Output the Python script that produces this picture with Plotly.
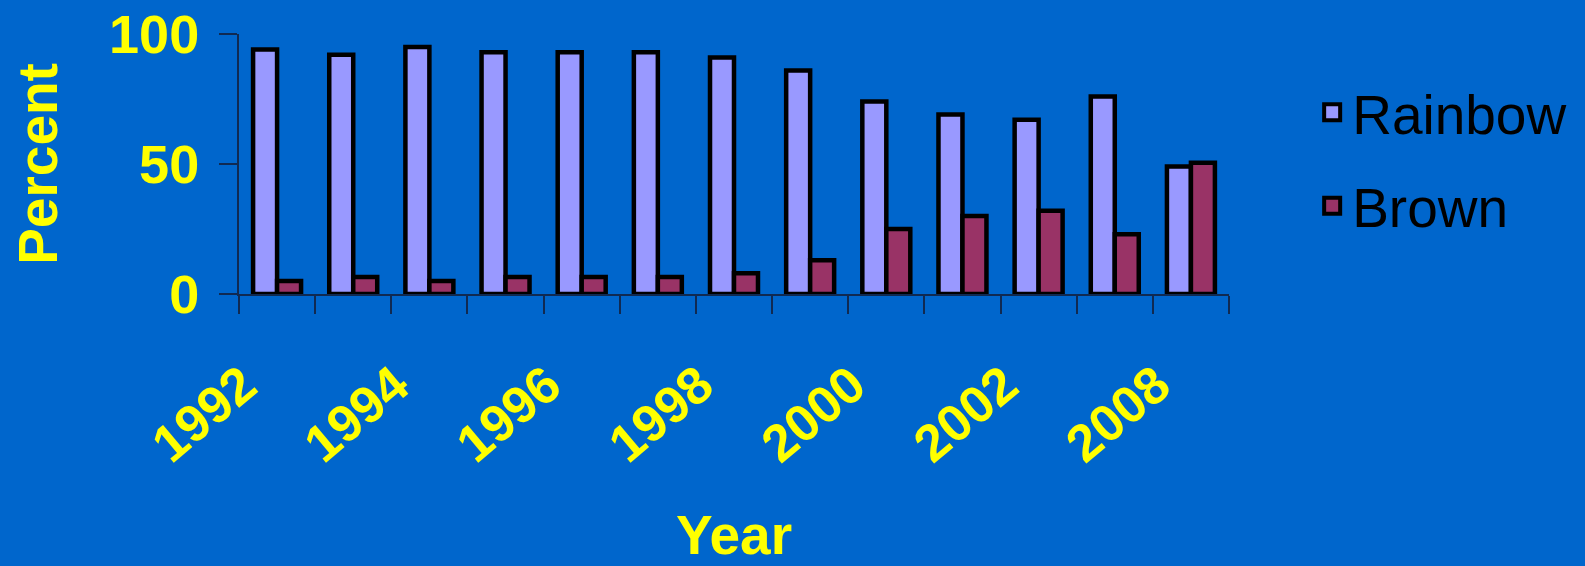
import plotly.graph_objects as go

# ---- data ----
years = ["1992", "1993", "1994", "1995", "1996", "1997", "1998",
         "1999", "2000", "2001", "2002", "2003", "2008"]
tick_labels = ["1992", "", "1994", "", "1996", "", "1998",
               "", "2000", "", "2002", "", "2008"]
rainbow = [94, 92, 95, 93, 93, 93, 91, 86, 74, 69, 67, 76, 49]
brown = [5, 6.5, 5, 6.5, 6.5, 6.5, 8, 13, 25, 30, 32, 23, 50.5]
y_ticks = [0, 50, 100]

BG = "#0066CC"
YELLOW = "#FFFF00"
AXIS = "#102a52"
FONT = "Liberation Sans"
COLORS = {"Rainbow": "#9999FF", "Brown": "#993366"}

fig = go.Figure()
for name, vals in (("Rainbow", rainbow), ("Brown", brown)):
    fig.add_trace(go.Bar(
        x=years, y=vals, name=name, legendgroup=name, showlegend=False,
        marker=dict(color=COLORS[name], line=dict(color="#000000", width=4.5)),
    ))
# legend proxies (larger square swatches than the bar default)
for name in ("Rainbow", "Brown"):
    fig.add_trace(go.Scatter(
        x=[None], y=[None], mode="markers", name=name, legendgroup=name,
        marker=dict(symbol="square", size=16, color=COLORS[name],
                    line=dict(color="#000000", width=4)),
    ))

fig.update_layout(
    width=1585, height=566,
    paper_bgcolor=BG, plot_bgcolor=BG,
    margin=dict(l=239, r=356, t=34, b=272, autoexpand=False),
    barmode="group", bargap=0.37, bargroupgap=0,
    showlegend=True,
    legend=dict(
        x=1.084, xanchor="left", y=0.862, yanchor="top",
        font=dict(family=FONT, size=55, color="#000000"),
        bgcolor="rgba(0,0,0,0)", traceorder="grouped", tracegroupgap=19,
        itemsizing="trace",
    ),
    xaxis=dict(
        type="category", categoryorder="array", categoryarray=years,
        tickvals=years, ticktext=tick_labels,
        tickson="boundaries", ticks="outside", ticklen=18, tickwidth=2,
        tickcolor=AXIS, showline=True, linecolor=AXIS, linewidth=2,
        showgrid=False, zeroline=False, tickangle=-40,
        tickfont=dict(family=FONT, size=52, color=YELLOW, weight="bold"),
        ticklabelstandoff=38, ticklabelshift=-34,
        title=dict(text="Year", standoff=60,
                   font=dict(family=FONT, size=55, color=YELLOW, weight="bold")),
        automargin=False,
    ),
    yaxis=dict(
        range=[0, 100], tickvals=y_ticks,
        ticks="outside", ticklen=18, tickwidth=2, tickcolor=AXIS,
        showline=True, linecolor=AXIS, linewidth=2,
        showgrid=False, zeroline=False,
        tickfont=dict(family=FONT, size=54, color=YELLOW, weight="bold"),
        ticklabelstandoff=9,
        title=dict(text="Percent", standoff=34,
                   font=dict(family=FONT, size=55, color=YELLOW, weight="bold")),
        automargin=False,
    ),
)

fig.write_html("out.html", config={"displayModeBar": False},
               post_script="document.body.style.margin='0';")
